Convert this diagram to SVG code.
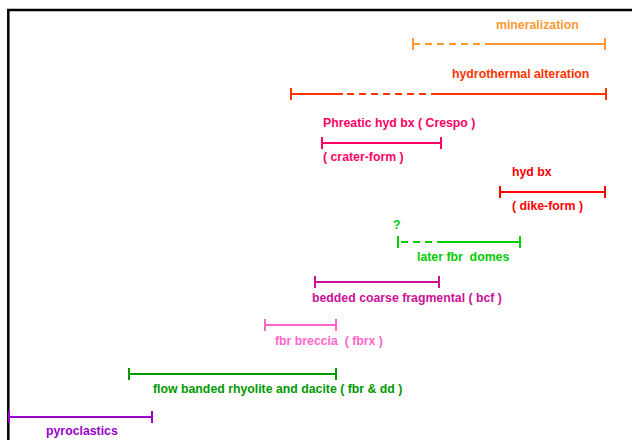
<svg xmlns="http://www.w3.org/2000/svg" width="632" height="440" viewBox="0 0 632 440">
<style>
text{font-family:"Liberation Sans",Arial,sans-serif;font-size:12.3px;font-weight:bold;white-space:pre}
.bar{stroke-width:2;fill:none}
.dash{stroke-dasharray:7 5}
</style>
<rect x="0" y="0" width="632" height="440" fill="#ffffff"/>
<g id="frame" stroke="#000" stroke-width="2.5" fill="none">
<path d="M8.3,440 V10 H632"/>
</g>
<g id="connectors">
<g stroke="#ff9933" class="bar">
<path d="M413,38 V50 M605,38 V50 M487,44 H605"/>
<path class="dash" d="M413,44 H487"/>
</g>
<g stroke="#ff3300" class="bar">
<path d="M291,88 V100 M606,88 V100 M291,94 H343 M436,94 H606"/>
<path class="dash" d="M347,94 H436"/>
</g>
<g stroke="#ff0066" class="bar"><path d="M322,137 V149 M441,137 V149 M322,143 H441"/></g>
<g stroke="#ff0000" class="bar"><path d="M500,186 V198 M605,186 V198 M500,192 H605"/></g>
<g stroke="#00cc00" class="bar">
<path d="M398,236 V248 M520,236 V248 M438,242 H520"/>
<path class="dash" d="M401,242 H438"/>
</g>
<g stroke="#cc1199" class="bar"><path d="M315,276 V288 M439,276 V288 M315,282 H439"/></g>
<g stroke="#ff66cc" class="bar"><path d="M265,319 V331 M336,319 V331 M265,325 H336"/></g>
<g stroke="#009900" class="bar"><path d="M129,368 V380 M336,368 V380 M129,374 H336"/></g>
<g stroke="#9900cc" class="bar"><path d="M9,411 V423 M152,411 V423 M9,417 H152"/></g>
</g>
<g id="mineralization"><text x="496" y="29" fill="#ff9933">mineralization</text></g>
<g id="hydrothermal"><text x="452" y="78" fill="#ff3300">hydrothermal alteration</text></g>
<g id="phreatic">
<text x="323" y="127" fill="#ff0066">Phreatic hyd bx ( Crespo )</text>
<text x="323" y="161" fill="#ff0066">( crater-form )</text>
</g>
<g id="hydbx">
<text x="512" y="176" fill="#ff0000">hyd bx</text>
<text x="512" y="210" fill="#ff0000">( dike-form )</text>
</g>
<g id="domes">
<text x="393" y="229" fill="#00cc00">?</text>
<text x="417" y="261" fill="#00cc00" xml:space="preserve">later fbr  domes</text>
</g>
<g id="bcf"><text x="312" y="302" fill="#cc1199">bedded coarse fragmental ( bcf )</text></g>
<g id="fbrx"><text x="275" y="345" fill="#ff66cc" xml:space="preserve">fbr breccia  ( fbrx )</text></g>
<g id="fbrdd"><text x="153" y="393" fill="#009900">flow banded rhyolite and dacite ( fbr &amp; dd )</text></g>
<g id="pyro"><text x="46" y="435" fill="#9900cc">pyroclastics</text></g>
</svg>
